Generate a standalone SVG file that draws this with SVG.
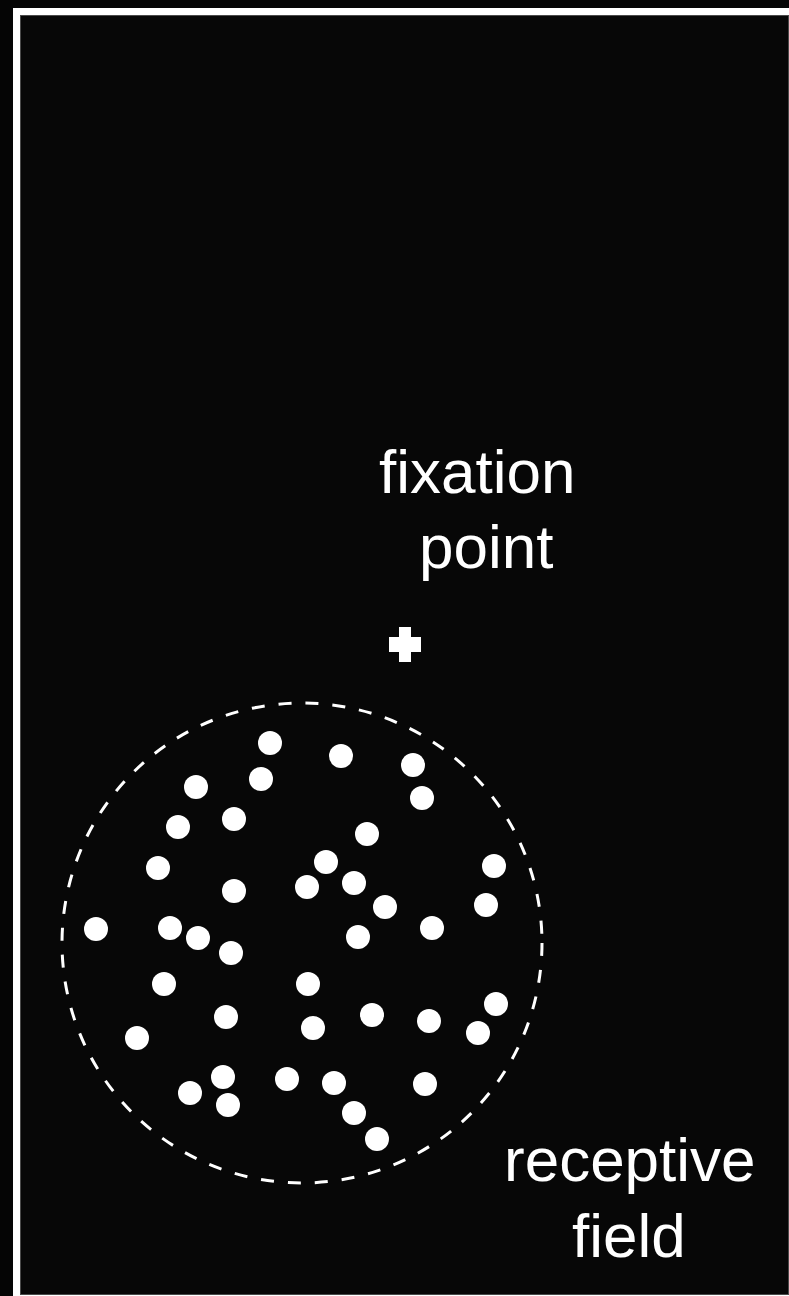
<svg xmlns="http://www.w3.org/2000/svg" width="789" height="1296" viewBox="0 0 789 1296">
  <style>
    .lbl { font-family: "Liberation Sans", Arial, sans-serif; font-size: 62px; fill: #ffffff; }
    .dot { fill: #ffffff; }
  </style>
  <defs>
    <circle id="d" r="12" class="dot"/>
  </defs>
  <rect x="0" y="0" width="789" height="1296" fill="#050505"/>
  <rect x="13" y="8" width="776" height="1288" fill="#ffffff"/>
  <rect x="20.5" y="15.5" width="768" height="1279" fill="#070707" stroke="#4a4a4a" stroke-width="1"/>

  <g id="fixation-label">
    <text class="lbl" x="379" y="493">fixation</text>
    <text class="lbl" x="419" y="568">point</text>
  </g>

  <g id="fixation-point" fill="#ffffff">
    <rect x="389" y="637" width="32" height="15"/>
    <rect x="399" y="627" width="12" height="35"/>
  </g>

  <g id="receptive-field">
    <circle cx="302" cy="943" r="240" fill="none" stroke="#ffffff" stroke-width="3" stroke-dasharray="13 14"/>
  </g>

  <g id="dots">
    <use href="#d" x="270" y="743"/>
    <use href="#d" x="261" y="779"/>
    <use href="#d" x="196" y="787"/>
    <use href="#d" x="178" y="827"/>
    <use href="#d" x="234" y="819"/>
    <use href="#d" x="158" y="868"/>
    <use href="#d" x="234" y="891"/>
    <use href="#d" x="96" y="929"/>
    <use href="#d" x="170" y="928"/>
    <use href="#d" x="198" y="938"/>
    <use href="#d" x="341" y="756"/>
    <use href="#d" x="413" y="765"/>
    <use href="#d" x="422" y="798"/>
    <use href="#d" x="367" y="834"/>
    <use href="#d" x="326" y="862"/>
    <use href="#d" x="307" y="887"/>
    <use href="#d" x="354" y="883"/>
    <use href="#d" x="385" y="907"/>
    <use href="#d" x="432" y="928"/>
    <use href="#d" x="358" y="937"/>
    <use href="#d" x="494" y="866"/>
    <use href="#d" x="486" y="905"/>
    <use href="#d" x="231" y="953"/>
    <use href="#d" x="164" y="984"/>
    <use href="#d" x="226" y="1017"/>
    <use href="#d" x="137" y="1038"/>
    <use href="#d" x="223" y="1077"/>
    <use href="#d" x="190" y="1093"/>
    <use href="#d" x="228" y="1105"/>
    <use href="#d" x="287" y="1079"/>
    <use href="#d" x="308" y="984"/>
    <use href="#d" x="313" y="1028"/>
    <use href="#d" x="372" y="1015"/>
    <use href="#d" x="429" y="1021"/>
    <use href="#d" x="496" y="1004"/>
    <use href="#d" x="478" y="1033"/>
    <use href="#d" x="334" y="1083"/>
    <use href="#d" x="425" y="1084"/>
    <use href="#d" x="354" y="1113"/>
    <use href="#d" x="377" y="1139"/>
  </g>

  <g id="receptive-label">
    <text class="lbl" x="504" y="1181">receptive</text>
    <text class="lbl" x="572" y="1257">field</text>
  </g>
</svg>
